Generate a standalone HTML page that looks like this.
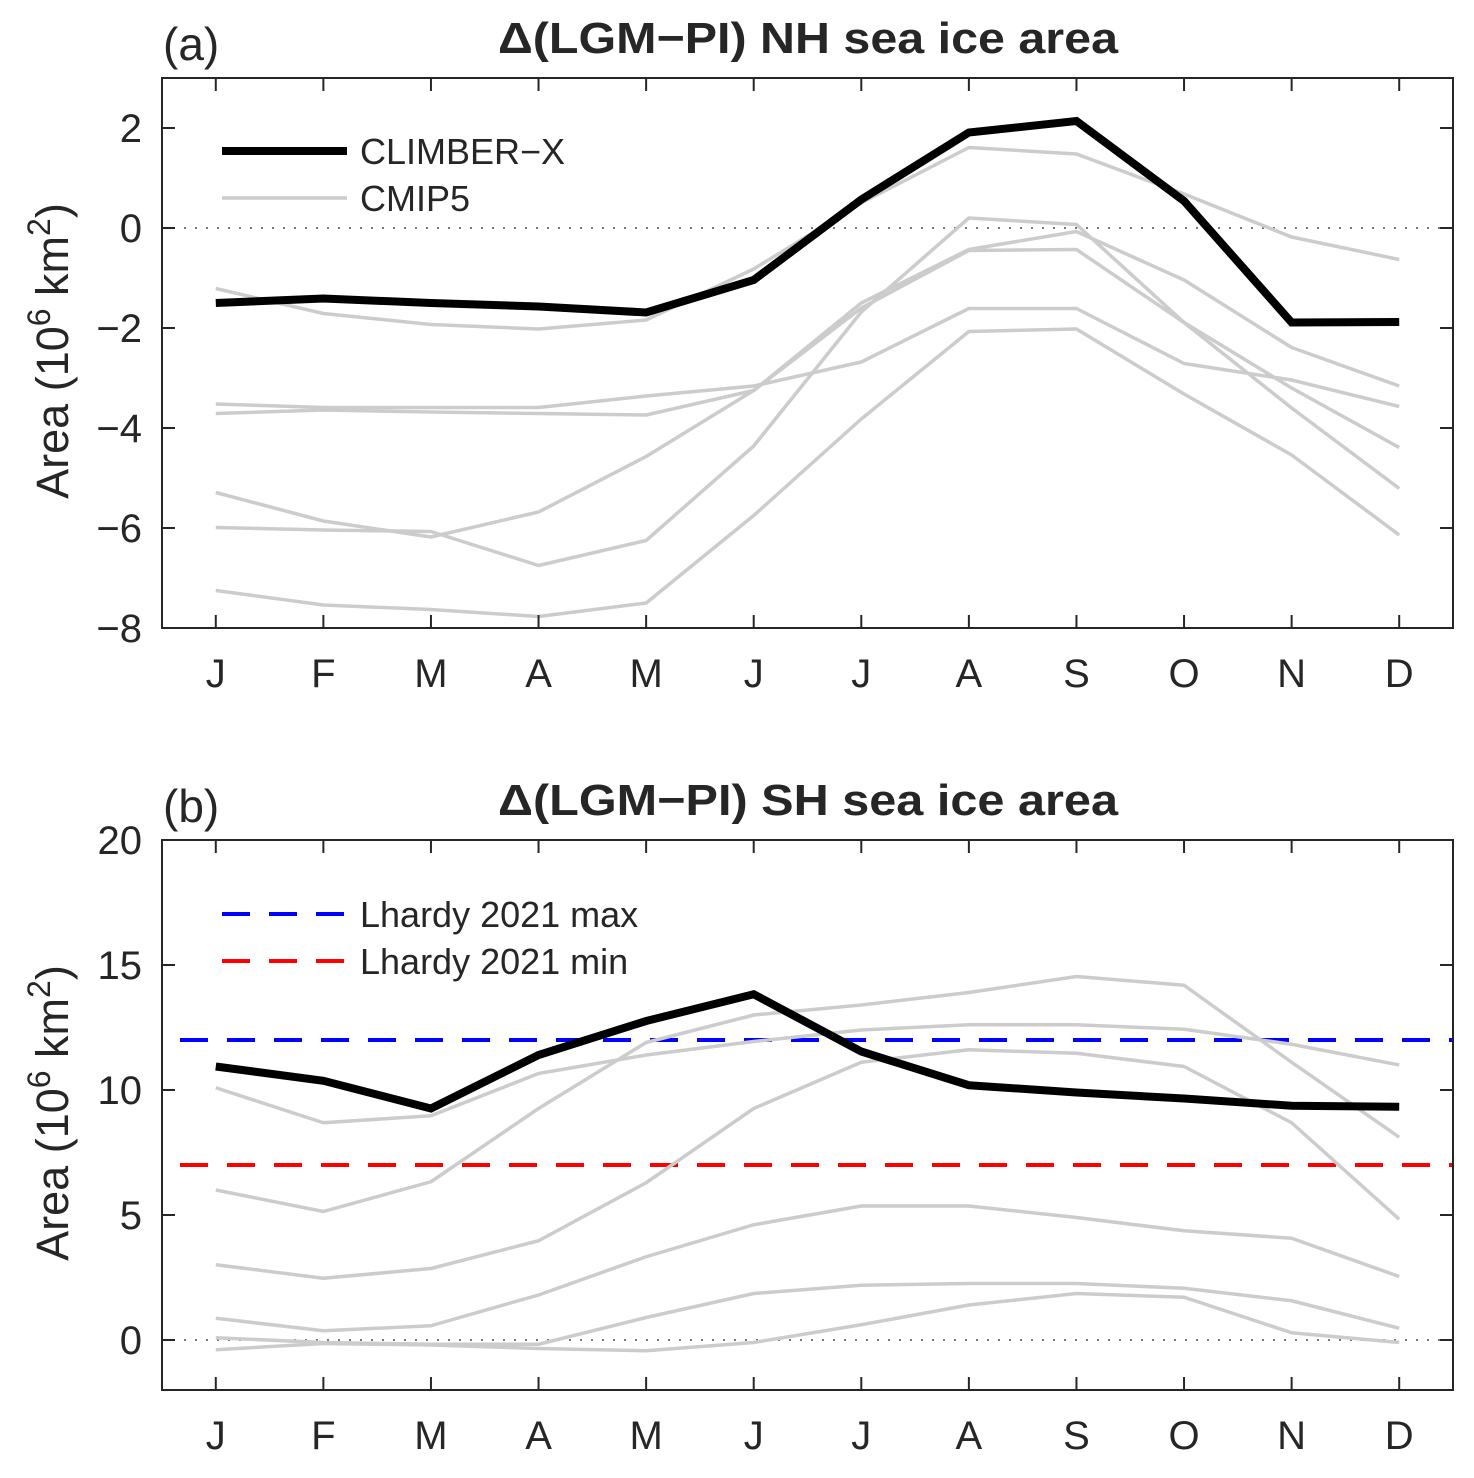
<!DOCTYPE html>
<html><head><meta charset="utf-8"><style>
html,body{margin:0;padding:0;background:#fff}
svg text{font-family:"Liberation Sans",sans-serif;fill:#262626}
</style></head><body>
<svg id="fig" width="1474" height="1473" viewBox="0 0 1474 1473" xmlns="http://www.w3.org/2000/svg">
</svg>
<script>
const months = ["J","F","M","A","M","J","J","A","S","O","N","D"];
const nhTicks = [-8,-6,-4,-2,0,2];
const shTicks = [0,5,10,15,20];
const nhClimber = [-1.5,-1.41,-1.5,-1.57,-1.69,-1.04,0.57,1.91,2.14,0.54,-1.89,-1.88];
const nhCmip1 = [-1.21,-1.71,-1.93,-2.02,-1.84,-0.82,0.5,1.61,1.48,0.68,-0.18,-0.63];
const nhCmip2 = [-3.52,-3.59,-3.59,-3.59,-3.36,-3.16,-2.68,-1.61,-1.61,-2.71,-3.04,-3.57];
const nhCmip3 = [-3.71,-3.64,-3.68,-3.71,-3.74,-3.25,-1.5,-0.43,-0.07,-1.04,-2.39,-3.16];
const nhCmip4 = [-5.29,-5.86,-6.18,-5.68,-4.57,-3.25,-1.6,-0.45,-0.43,-1.89,-3.2,-4.39];
const nhCmip5 = [-5.99,-6.04,-6.07,-6.75,-6.25,-4.36,-1.68,0.2,0.07,-1.89,-3.6,-5.21];
const nhCmip6 = [-7.25,-7.54,-7.63,-7.77,-7.5,-5.75,-3.82,-2.07,-2.02,-3.32,-4.54,-6.14];
const shClimber = [10.94,10.37,9.26,11.4,12.76,13.83,11.54,10.19,9.9,9.66,9.37,9.33];
const shCmip1 = [10.09,8.69,8.97,10.66,11.4,11.94,12.4,12.61,12.61,12.43,11.83,11.0];
const shCmip2 = [6.0,5.14,6.33,9.26,11.9,13.0,13.4,13.9,14.54,14.19,11.11,8.11];
const shCmip3 = [3.01,2.47,2.86,3.97,6.29,9.26,11.11,11.61,11.47,10.94,8.69,4.83];
const shCmip4 = [0.87,0.37,0.57,1.8,3.33,4.61,5.36,5.36,4.9,4.37,4.07,2.54];
const shCmip5 = [0.09,-0.1,-0.17,-0.17,0.9,1.86,2.19,2.26,2.26,2.07,1.57,0.47];
const shCmip6 = [-0.39,-0.14,-0.2,-0.34,-0.43,-0.1,0.61,1.4,1.86,1.71,0.29,-0.1];
const lhardyMax = [12];
const lhardyMin = [7];

const NS="http://www.w3.org/2000/svg";
const svg=document.getElementById('fig');
function mk(tag,attrs,parent){const e=document.createElementNS(NS,tag);for(const k in attrs)e.setAttribute(k,attrs[k]);(parent||svg).appendChild(e);return e;}
const L=162,R=1453;
function xs(i){return L+(i+0.5)/12*(R-L);}

function panel(cfg){
  const g=mk('g',{});
  
  
  const ys=v=>cfg.bot-(v-cfg.ymin)/(cfg.ymax-cfg.ymin)*(cfg.bot-cfg.top);
  const z=mk('line',{x1:L,x2:R,y1:ys(0),y2:ys(0),stroke:'#777','stroke-width':2,'stroke-dasharray':'2 9'},g);
  
  
  cfg.refs.forEach(r=>{
    const l=mk('line',{x1:L,x2:R,y1:ys(r.v[0]),y2:ys(r.v[0]),stroke:r.c,'stroke-width':4,'stroke-dasharray':'28 19','stroke-dashoffset':'-18'},g);
    
    
  });
  cfg.gray.forEach((s,k)=>{
    const p=mk('polyline',{points:s.map((v,i)=>xs(i)+','+ys(v)).join(' '),fill:'none',stroke:'#cccccc','stroke-width':3.5,'stroke-linejoin':'round'},g);
    
    
  });
  const b=mk('polyline',{points:cfg.black.map((v,i)=>xs(i)+','+ys(v)).join(' '),fill:'none',stroke:'#000','stroke-width':8,'stroke-linejoin':'miter'},g);
  
  
  const box=mk('rect',{x:L,y:cfg.top,width:R-L,height:cfg.bot-cfg.top,fill:'none',stroke:'#262626','stroke-width':2},g);
  
  
  months.forEach((m,i)=>{
    const x=xs(i);
    mk('line',{x1:x,x2:x,y1:cfg.bot,y2:cfg.bot-13,stroke:'#262626','stroke-width':2},g);
    mk('line',{x1:x,x2:x,y1:cfg.top,y2:cfg.top+13,stroke:'#262626','stroke-width':2},g);
    const t=mk('text',{x:x,y:cfg.bot+59,'text-anchor':'middle','font-size':40},g);
    t.textContent=m;
    
    
  });
  cfg.ticks.forEach(v=>{
    const y=ys(v);
    mk('line',{x1:L,x2:L+13,y1:y,y2:y,stroke:'#262626','stroke-width':2},g);
    mk('line',{x1:R,x2:R-13,y1:y,y2:y,stroke:'#262626','stroke-width':2},g);
    const t=mk('text',{x:142,y:y+14,'text-anchor':'end','font-size':40},g);
    t.textContent=(v<0?'\u2212':'')+Math.abs(v);
    
    
  });
  const yl=mk('text',{transform:`translate(68 ${(cfg.top+cfg.bot)/2-2}) rotate(-90)`,'text-anchor':'middle','font-size':45},g);
  yl.innerHTML='Area (10<tspan dy="-18" font-size="32">6</tspan><tspan dy="18"> km</tspan><tspan dy="-18" font-size="32">2</tspan><tspan dy="18">)</tspan>';
  
  
  const tt=mk('text',{x:808,y:cfg.top-25,'text-anchor':'middle','font-size':44,'font-weight':'bold',textLength:620,lengthAdjust:'spacingAndGlyphs'},g);
  tt.textContent=cfg.title;
  
  
  const lab=mk('text',{x:163,y:cfg.top-18,'font-size':46},g);
  lab.textContent=cfg.label;
  
  
  cfg.legend.forEach((e,k)=>{
    const y=cfg.legY+k*47;
    const a={x1:222,x2:347,y1:y,y2:y,stroke:e.c,'stroke-width':e.w};
    if(e.dash) a['stroke-dasharray']='28 19';
    const l=mk('line',a,g);
    
    
    const t=mk('text',{x:360,y:y+13,'font-size':36},g);
    t.textContent=e.t;
    
    
  });
}
panel({name:'nh-panel',top:78,bot:628,ymin:-8,ymax:3,ticks:nhTicks,title:'\u0394(LGM\u2212PI) NH sea ice area',label:'(a)',
  black:nhClimber,gray:[nhCmip1,nhCmip2,nhCmip3,nhCmip4,nhCmip5,nhCmip6],refs:[],legY:151,
  legend:[{c:'#000',w:8,t:'CLIMBER\u2212X'},{c:'#cccccc',w:3.5,t:'CMIP5'}]});
panel({name:'sh-panel',top:840,bot:1390,ymin:-2,ymax:20,ticks:shTicks,title:'\u0394(LGM\u2212PI) SH sea ice area',label:'(b)',
  black:shClimber,gray:[shCmip1,shCmip2,shCmip3,shCmip4,shCmip5,shCmip6],
  refs:[{v:lhardyMax,c:'#0000ff',name:'lhardy-max-line'},{v:lhardyMin,c:'#ff0000',name:'lhardy-min-line'}],legY:914,
  legend:[{c:'#0000ff',w:4,dash:1,t:'Lhardy 2021 max'},{c:'#ff0000',w:4,dash:1,t:'Lhardy 2021 min'}]});
</script>
</body></html>
